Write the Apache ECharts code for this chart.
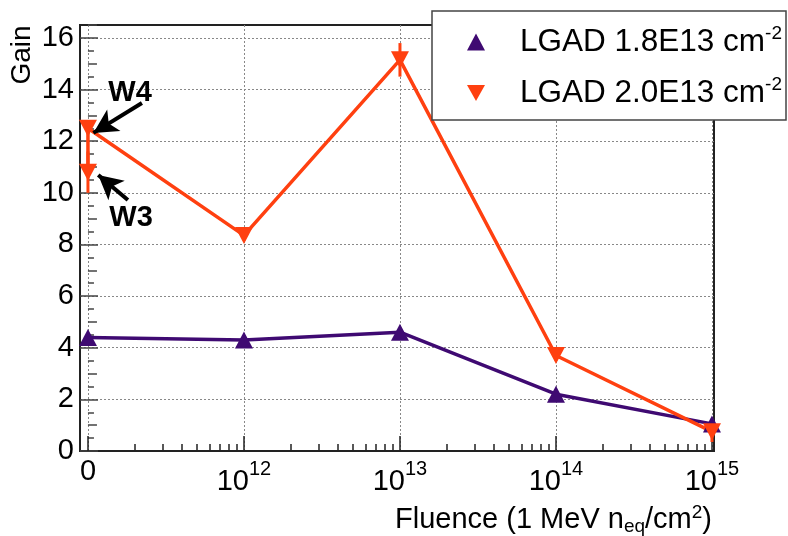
<!DOCTYPE html>
<html><head><meta charset="utf-8">
<script src="https://cdn.jsdelivr.net/npm/echarts@6/dist/echarts.min.js"></script>
<style>html,body{margin:0;padding:0;background:#fff}#c{width:788px;height:536px}</style>
</head><body><div id="c"></div>
<script>
// ---- data ----
const xTickLabels = ['0', '10^12', '10^13', '10^14', '10^15'];
const xTickPos = [0, 1, 2, 3, 4];           // decade index of each tick label
const yTicks = [0, 2, 4, 6, 8, 10, 12, 14, 16];

const lgad18Name = 'LGAD 1.8E13';
const lgad18X = [0, 1, 2, 3, 4];
const lgad18Gain = [4.4, 4.3, 4.6, 2.2, 1.05];
const lgad18Err = [0.15, 0.1, 0.15, 0.1, 0.2];

const lgad20Name = 'LGAD 2.0E13';
const lgad20X = [0, 0, 1, 2, 3, 4];
const lgad20Gain = [10.8, 12.5, 8.35, 15.15, 3.7, 0.75];
const lgad20Err = [0.8, 0.2, 0.2, 0.65, 0.2, 0.4];

const annotLabels = ['W4', 'W3'];
const annotText = [[0.27, 13.87], [0.276, 9.03]];
const annotArrowFrom = [[0.346, 13.48], [0.256, 9.72]];
const annotArrowTo = [[0.035, 12.32], [0.066, 10.69]];

// ---- styles ----
const FONT = 'Liberation Sans';
const PURPLE = '#3f0a72';
const ORANGE = '#ff4010';
const X_MIN = -0.051, X_MAX = 4.013, Y_MIN = 0, Y_MAX = 16.5;

const minorX = [];
for (let d = 0; d < 4; d++) for (let k = 2; k <= 9; k++) minorX.push(d + Math.log10(k));

function pairs(xs, ys) { return xs.map((x, i) => [x, ys[i]]); }
function errData(xs, ys, es) { return xs.map((x, i) => [x, ys[i] - es[i], ys[i] + es[i]]); }

function errSeries(data, color) {
  return {
    type: 'custom', xAxisIndex: 0, yAxisIndex: 0, data: data, silent: true,
    encode: { x: 0, y: [1, 2] },
    renderItem: function (params, api) {
      const a = api.coord([api.value(0), api.value(1)]);
      const b = api.coord([api.value(0), api.value(2)]);
      return { type: 'line', shape: { x1: a[0], y1: a[1], x2: b[0], y2: b[1] },
        style: { stroke: color, lineWidth: 3 } };
    }
  };
}

const gridRect = { left: 80, right: 74, top: 25, bottom: 85 };

const option = {
  animation: false,
  backgroundColor: '#fff',
  textStyle: { fontFamily: FONT },
  grid: [
    Object.assign({ show: true, borderColor: '#222', borderWidth: 2, backgroundColor: 'transparent' }, gridRect),
    Object.assign({ show: false }, gridRect)
  ],
  xAxis: [
    { type: 'value', gridIndex: 0, min: X_MIN, max: X_MAX,
      axisLine: { show: true, onZero: false, lineStyle: { color: '#222', width: 2 } },
      axisTick: { show: true, inside: true, length: 15, customValues: xTickPos, lineStyle: { color: '#222', width: 1.5 } },
      axisLabel: { show: true, customValues: xTickPos, margin: 11, color: '#000',
        formatter: function (v) {
          const idx = xTickPos.indexOf(Math.round(v));
          const s = xTickLabels[idx] || '';
          const p = s.split('^');
          if (p.length === 1) return '{z|' + p[0] + '}';
          return '{b|' + p[0] + '}{s|' + p[1] + '}';
        },
        rich: {
          z: { fontSize: 29, lineHeight: 29, padding: [0, 0, 10, 0], fontFamily: FONT, color: '#000' },
          b: { fontSize: 29, lineHeight: 29, padding: [10, 0, 0, 0], fontFamily: FONT, color: '#000' },
          s: { fontSize: 20, lineHeight: 20, padding: [2, 0, 17, 0], fontFamily: FONT, color: '#000' }
        } },
      splitLine: { show: true, lineStyle: { type: [2, 2], color: '#888', width: 1 } } },
    { type: 'value', gridIndex: 1, min: X_MIN, max: X_MAX, position: 'bottom',
      axisLine: { show: false }, axisLabel: { show: false }, splitLine: { show: false },
      axisTick: { show: true, inside: true, length: 7, customValues: minorX, lineStyle: { color: '#222', width: 1.5 } } }
  ],
  yAxis: [
    { type: 'value', gridIndex: 0, min: Y_MIN, max: Y_MAX,
      axisLine: { show: true, onZero: false, lineStyle: { color: '#222', width: 2 } },
      axisTick: { show: true, inside: true, length: 18, customValues: yTicks, lineStyle: { color: '#444', width: 1.5 } },
      axisLabel: { show: true, customValues: yTicks, margin: 6, fontSize: 29, color: '#000', fontFamily: FONT },
      splitLine: { show: true, lineStyle: { type: [2, 2], color: '#888', width: 1 } } },
    { type: 'value', gridIndex: 1, min: Y_MIN, max: Y_MAX, interval: 1, position: 'left',
      axisLine: { show: false }, axisLabel: { show: false }, splitLine: { show: false },
      axisTick: { show: true, inside: true, length: 9, lineStyle: { color: '#444', width: 1.5 } },
      minorTick: { show: true, splitNumber: 2, length: 6, lineStyle: { color: '#444', width: 1.5 } } }
  ],
  legend: {
    orient: 'vertical', left: 432, top: 11,
    padding: [13, 4, 11, 35], itemGap: 17, itemWidth: 18, itemHeight: 17,
    backgroundColor: '#fff', borderColor: '#444', borderWidth: 1.5, borderRadius: 0,
    data: [
      { name: lgad18Name, icon: 'triangle' },
      { name: lgad20Name, icon: 'path://M0,0 L10,0 L5,9 Z' }
    ],
    formatter: function (name) { return name + ' cm{sup|-2}'; },
    textStyle: { fontSize: 31.5, fontFamily: FONT, color: '#000', padding: [0, 0, 0, 30],
      rich: { sup: { fontSize: 19, fontFamily: FONT, color: '#000', padding: [0, 0, 17, 0] } } }
  },
  graphic: [
    { type: 'text', x: 22, y: 55, rotation: Math.PI / 2,
      style: { text: 'Gain', fontSize: 28, fontFamily: FONT, fill: '#000', align: 'center', verticalAlign: 'middle' } },
    { type: 'text', x: 712, y: 520,
      style: { text: 'Fluence (1 MeV n{sub|eq}/cm{sup|2})', fontSize: 29, fontFamily: FONT, fill: '#000',
        align: 'right', verticalAlign: 'middle',
        rich: { sub: { fontSize: 19, fontFamily: FONT, fill: '#000', padding: [14, 0, 0, 0] },
                sup: { fontSize: 19, fontFamily: FONT, fill: '#000', padding: [0, 0, 14, 0] } } } }
  ],
  series: [
    errSeries(errData(lgad18X, lgad18Gain, lgad18Err), PURPLE),
    { name: lgad18Name, type: 'line', data: pairs(lgad18X, lgad18Gain),
      symbol: 'triangle', symbolSize: [18, 17], showAllSymbol: true,
      lineStyle: { color: PURPLE, width: 3.5 }, itemStyle: { color: PURPLE } },
    errSeries(errData(lgad20X, lgad20Gain, lgad20Err), ORANGE),
    { name: lgad20Name, type: 'line', data: pairs(lgad20X, lgad20Gain),
      symbol: 'triangle', symbolRotate: 180, symbolSize: [18, 17], showAllSymbol: true,
      lineStyle: { color: ORANGE, width: 3.5 }, itemStyle: { color: ORANGE },
      markLine: { silent: true, symbol: ['none', 'arrow'], symbolSize: [19, 24],
        lineStyle: { color: '#000', width: 4, type: 'solid' }, label: { show: false },
        data: annotArrowFrom.map((f, i) => [{ coord: f }, { coord: annotArrowTo[i] }]) },
      markPoint: { silent: true, symbol: 'circle', symbolSize: 1,
        itemStyle: { color: 'rgba(0,0,0,0)' },
        label: { show: true, position: 'inside', fontSize: 29, fontWeight: 'bold', color: '#000', fontFamily: FONT,
          formatter: function (p) { return p.name; } },
        data: annotLabels.map((n, i) => ({ name: n, coord: annotText[i] })) } }
  ]
};
const chart = echarts.init(document.getElementById('c'), null, { renderer: 'canvas' });
chart.setOption(option);
</script></body></html>
